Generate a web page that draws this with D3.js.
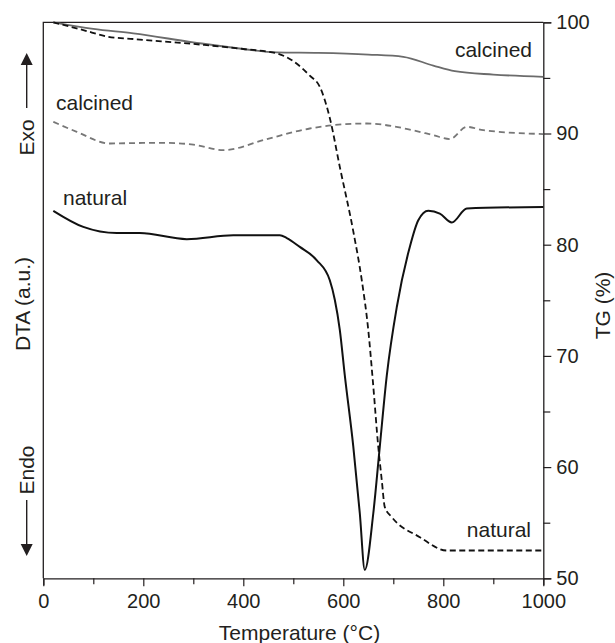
<!DOCTYPE html>
<html>
<head>
<meta charset="utf-8">
<script src="https://cdn.jsdelivr.net/npm/d3@7"></script>
<style>
  body { margin: 0; background: #fff; }
  svg { display: block; font-family: "Liberation Sans", Arial, sans-serif; }
</style>
</head>
<body>
<div id="chart"></div>
<script>
// temperature (°C), value pairs
const tgCalcined = [[20,100],[100,99.4],[180,99.0],[300,98.2],[400,97.6],[467,97.3],[550,97.25],[650,97.1],[720,96.9],[780,96.1],[823,95.6],[900,95.3],[1000,95.1]];
const tgNatural = [[20,100],[80,99.3],[130,98.7],[180,98.5],[313,98.0],[400,97.6],[467,97.2],[500,96.5],[533,95.2],[553,94.2],[573,91.4],[593,87.0],[620,81.2],[637,76.8],[650,72.3],[659,67.8],[670,61.8],[677,58.8],[683,56.4],[697,55.5],[753,53.7],[807,52.5],[1000,52.5]];
// DTA in arbitrary units
const dtaCalcined = [[20,82.1],[67,80.3],[133,78.2],[200,78.3],[247,78.3],[300,78.0],[360,77.0],[447,79.0],[533,80.9],[580,81.5],[647,81.8],[700,81.3],[733,80.7],[780,79.7],[813,79.0],[847,81.2],[880,80.6],[1000,79.9]];
const dtaNatural = [[20,66.1],[80,63.2],[147,62.1],[193,62.1],[287,61.0],[380,61.7],[473,61.7],[487,61.2],[513,59.6],[547,57.2],[573,53.6],[583,50.1],[593,44.7],[603,36.5],[620,23.7],[633,11.7],[643,1.5],[660,11.7],[673,23.7],[687,36.5],[707,48.8],[733,59.6],[750,64.4],[770,66.1],[793,65.6],[817,64.0],[847,66.5],[1000,66.8]];

const xTicks = [0, 100, 200, 300, 400, 500, 600, 700, 800, 900, 1000];
const tgTicks = [50, 55, 60, 65, 70, 75, 80, 85, 90, 95, 100];

const width = 615, height = 643;
const margin = {top: 22.3, right: 71.7, bottom: 64.7, left: 43.3};
const ink = "#231f20";

const svg = d3.select("#chart").append("svg")
    .attr("width", width)
    .attr("height", height);

const x = d3.scaleLinear().domain([0, 1000]).range([margin.left, width - margin.right]);
const yTG = d3.scaleLinear().domain([50, 100]).range([height - margin.bottom, margin.top]);
const yDTA = d3.scaleLinear().domain([0, 100]).range([height - margin.bottom, margin.top]);

// frame: left and top are plain lines
svg.append("path")
    .attr("d", `M${x(0)},${yTG(50)}V${yTG(100)}H${x(1000)}`)
    .attr("fill", "none")
    .attr("stroke", ink)
    .attr("stroke-width", 1.3);

// bottom axis
const xAxis = svg.append("g")
    .attr("transform", `translate(0,${yTG(50)})`)
    .call(d3.axisBottom(x).tickValues(xTicks).tickSize(7).tickPadding(9)
      .tickFormat(d => d % 200 === 0 ? d : ""));
xAxis.selectAll(".tick line").attr("y2", d => d % 200 === 0 ? 8 : 6);

// right axis
const yAxis = svg.append("g")
    .attr("transform", `translate(${x(1000)},0)`)
    .call(d3.axisRight(yTG).tickValues(tgTicks).tickSize(8).tickPadding(5)
      .tickFormat(d => d % 10 === 0 ? d : ""));
yAxis.selectAll(".tick line").attr("x2", d => d % 10 === 0 ? 8 : 7);

svg.selectAll(".domain").attr("stroke", ink).attr("stroke-width", 1.3);
svg.selectAll(".tick line").attr("stroke", ink).attr("stroke-width", 1.2);
svg.selectAll(".tick text").attr("fill", ink).attr("font-size", 20).attr("font-family", null);

// curves
const lineTG = d3.line().x(d => x(d[0])).y(d => yTG(d[1])).curve(d3.curveMonotoneX);
const lineDTA = d3.line().x(d => x(d[0])).y(d => yDTA(d[1])).curve(d3.curveMonotoneX);

svg.append("path").datum(tgCalcined)
    .attr("d", lineTG).attr("fill", "none")
    .attr("stroke", "#6b6b6b").attr("stroke-width", 1.8);

svg.append("path").datum(dtaCalcined)
    .attr("d", lineDTA).attr("fill", "none")
    .attr("stroke", "#777").attr("stroke-width", 1.8)
    .attr("stroke-dasharray", "6,4");

svg.append("path").datum(tgNatural)
    .attr("d", lineTG).attr("fill", "none")
    .attr("stroke", "#111").attr("stroke-width", 1.8)
    .attr("stroke-dasharray", "6,3.5");

svg.append("path").datum(dtaNatural)
    .attr("d", lineDTA).attr("fill", "none")
    .attr("stroke", "#111").attr("stroke-width", 2);

// curve labels
const labels = [
  {text: "calcined", x: 532, y: 56.5, anchor: "end"},
  {text: "calcined", x: 56, y: 110, anchor: "start"},
  {text: "natural", x: 63, y: 205, anchor: "start"},
  {text: "natural", x: 531, y: 536.5, anchor: "end"}
];
svg.selectAll(".lbl").data(labels).join("text")
    .attr("class", "lbl")
    .attr("x", d => d.x).attr("y", d => d.y)
    .attr("text-anchor", d => d.anchor)
    .attr("font-size", 21).attr("fill", ink)
    .text(d => d.text);

// axis titles
svg.append("text")
    .attr("x", 299.5).attr("y", 640)
    .attr("text-anchor", "middle").attr("font-size", 21).attr("fill", ink)
    .text("Temperature (°C)");

svg.append("text")
    .attr("transform", "translate(610,305.5) rotate(-90)")
    .attr("text-anchor", "middle").attr("font-size", 21).attr("fill", ink)
    .text("TG (%)");

svg.append("text")
    .attr("transform", "translate(29.5,304) rotate(-90)")
    .attr("text-anchor", "middle").attr("font-size", 21).attr("fill", ink)
    .text("DTA (a.u.)");

svg.append("text")
    .attr("transform", "translate(33.5,137.5) rotate(-90)")
    .attr("text-anchor", "middle").attr("font-size", 21).attr("fill", ink)
    .text("Exo");

svg.append("text")
    .attr("transform", "translate(33.5,470) rotate(-90)")
    .attr("text-anchor", "middle").attr("font-size", 21).attr("fill", ink)
    .text("Endo");

// Exo / Endo arrows
const ax = 26.7;
svg.append("line").attr("x1", ax).attr("x2", ax).attr("y1", 64).attr("y2", 108)
    .attr("stroke", ink).attr("stroke-width", 1.4);
svg.append("path").attr("d", `M${ax},53L${ax - 6},65L${ax + 6},65Z`).attr("fill", ink);

svg.append("line").attr("x1", ax).attr("x2", ax).attr("y1", 500).attr("y2", 545)
    .attr("stroke", ink).attr("stroke-width", 1.4);
svg.append("path").attr("d", `M${ax},556L${ax - 6},544L${ax + 6},544Z`).attr("fill", ink);
</script>
</body>
</html>
